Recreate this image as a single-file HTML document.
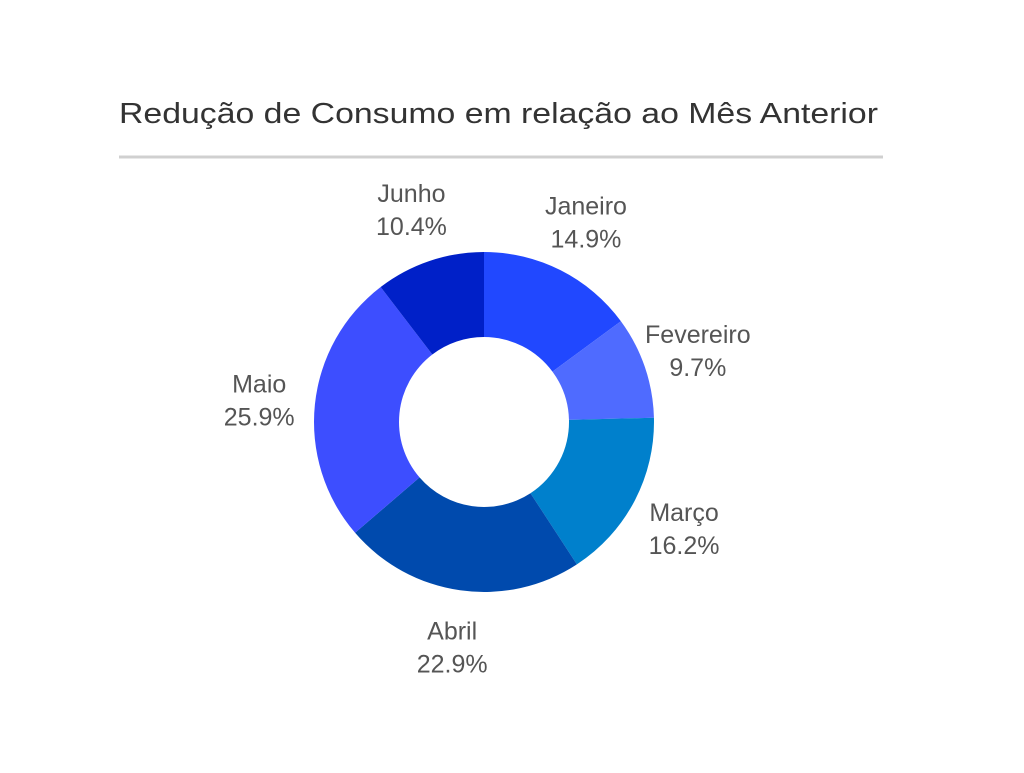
<!DOCTYPE html>
<html><head><meta charset="utf-8"><style>
body{margin:0;background:#fff;width:1024px;height:768px;overflow:hidden;font-family:"Liberation Sans",sans-serif}
</style></head><body>
<svg width="1024" height="768">
<text x="119" y="123" font-size="29" fill="#333" textLength="759" lengthAdjust="spacingAndGlyphs">Redução de Consumo em relação ao Mês Anterior</text>
<line x1="119" y1="157" x2="883" y2="157" stroke="#d0d0d0" stroke-width="3"/>
<g id="slices"></g><g id="labels"></g>
</svg>
<script>
const categories=["Janeiro","Fevereiro","Março","Abril","Maio","Junho"];
const values=[14.9,9.7,16.2,22.9,25.9,10.4];
const colors=["#2148FF","#4F6BFF","#0080CC","#004AAD","#3D4EFF","#0020C8"];
const cx=484,cy=422,R=170,r=85,LR=226;
const total=values.reduce((a,b)=>a+b,0);
const pt=(a,rad)=>[cx+rad*Math.sin(a),cy-rad*Math.cos(a)];
const sg=document.getElementById('slices'),lg=document.getElementById('labels');
const NS="http://www.w3.org/2000/svg";
let acc=0;
values.forEach((v,i)=>{
 const a0=acc/total*2*Math.PI;acc+=v;const a1=acc/total*2*Math.PI;
 const large=(a1-a0)>Math.PI?1:0;
 const [x0,y0]=pt(a0,R),[x1,y1]=pt(a1,R),[x2,y2]=pt(a1,r),[x3,y3]=pt(a0,r);
 const p=document.createElementNS(NS,'path');
 p.setAttribute('d',`M${x0},${y0}A${R},${R} 0 ${large} 1 ${x1},${y1}L${x2},${y2}A${r},${r} 0 ${large} 0 ${x3},${y3}Z`);
 p.setAttribute('fill',colors[i]);
 
 
 sg.appendChild(p);
 const [lx,ly]=pt((a0+a1)/2,LR);
 const t=document.createElementNS(NS,'text');
 t.setAttribute('x',lx);t.setAttribute('y',ly-6);
 t.setAttribute('text-anchor','middle');t.setAttribute('font-size','25');t.setAttribute('fill','#555');
 
 
 const s1=document.createElementNS(NS,'tspan');s1.setAttribute('x',lx);s1.textContent=categories[i];
 const s2=document.createElementNS(NS,'tspan');s2.setAttribute('x',lx);s2.setAttribute('dy','33');s2.textContent=v.toFixed(1)+'%';
 t.appendChild(s1);t.appendChild(s2);lg.appendChild(t);
});
</script>
</body></html>
